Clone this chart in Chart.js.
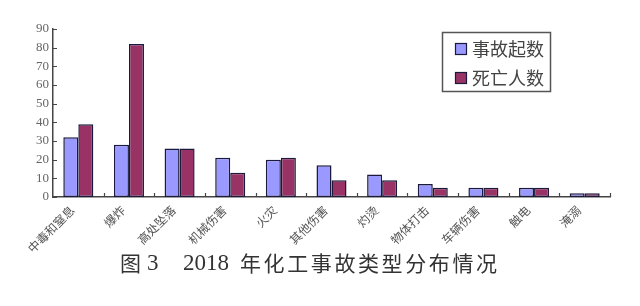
<!DOCTYPE html>
<html>
<head>
<meta charset="utf-8">
<script src="https://cdn.jsdelivr.net/npm/chart.js@4"></script>
<style>
  html, body { margin: 0; padding: 0; background: #fff; }
  #wrap { width: 640px; height: 306px; }
</style>
</head>
<body>
<div id="wrap"><canvas id="barchart" width="640" height="306"></canvas></div>
<script>
const categories = ['中毒和窒息', '爆炸', '高处坠落', '机械伤害', '火灾', '其他伤害', '灼烫', '物体打击', '车辆伤害', '触电', '淹溺'];
const accidents = [32, 28, 26, 21, 20, 17, 12, 7, 5, 5, 2];
const deaths = [39, 82, 26, 13, 21, 9, 9, 5, 5, 5, 2];
const seriesNames = ['事故起数', '死亡人数'];
const yTicks = [0, 10, 20, 30, 40, 50, 60, 70, 80, 90];
const titleParts = ['图', '3', '2018', '年化工事故类型分布情况'];

const serif = "'Liberation Serif', 'Noto Sans CJK SC', serif";
const cjk = "'Noto Sans CJK SC', sans-serif";

// small tick marks pointing into the plot, like the original figure
const tickMarks = {
    id: 'tickMarks',
    afterDraw(chart) {
        const ctx = chart.ctx;
        const x = chart.scales.x;
        const y = chart.scales.y;
        ctx.save();
        ctx.strokeStyle = '#444';
        ctx.lineWidth = 1.2;
        ctx.beginPath();
        yTicks.forEach((v) => {
            const py = Math.round(y.getPixelForValue(v)) + 0.5;
            ctx.moveTo(x.left, py);
            ctx.lineTo(x.left + 4, py);
        });
        const half = (x.getPixelForTick(1) - x.getPixelForTick(0)) / 2;
        for (let i = 0; i < categories.length; i++) {
            const px = Math.round(x.getPixelForTick(i) + half) + 0.5;
            ctx.moveTo(px, y.bottom);
            ctx.lineTo(px, y.bottom - 4);
        }
        ctx.stroke();
        ctx.restore();
    }
};

const boxLegend = {
    id: 'boxLegend',
    afterDraw(chart) {
        const ctx = chart.ctx;
        ctx.save();
        ctx.strokeStyle = '#555';
        ctx.lineWidth = 1.5;
        ctx.strokeRect(442.5, 32.5, 108, 59);
        chart.data.datasets.forEach((ds, i) => {
            const top = 43 + i * 29;
            ctx.fillStyle = ds.backgroundColor;
            ctx.fillRect(455, top, 12, 12);
            ctx.strokeStyle = ds.borderColor;
            ctx.lineWidth = 1.2;
            ctx.strokeRect(455.5, top + 0.5, 11, 11);
            ctx.fillStyle = '#444';
            ctx.font = '18px ' + cjk;
            ctx.textBaseline = 'middle';
            ctx.fillText(ds.label, 472, top + 6);
        });
        ctx.restore();
    }
};

const captionTitle = {
    id: 'captionTitle',
    afterDraw(chart) {
        const ctx = chart.ctx;
        ctx.save();
        ctx.fillStyle = '#333';
        ctx.textBaseline = 'middle';
        ctx.font = '21px ' + cjk;
        ctx.fillText(titleParts[0], 120, 263);
        ctx.font = '23px ' + serif;
        ctx.fillText(titleParts[1], 147, 264);
        ctx.fillText(titleParts[2], 183, 264);
        ctx.font = '21px ' + cjk;
        let cx = 240;
        for (const ch of titleParts[3]) {
            ctx.fillText(ch, cx, 263);
            cx += 23.6;
        }
        ctx.restore();
    }
};

const ctx = document.getElementById('barchart');
new Chart(ctx, {
    type: 'bar',
    data: {
        labels: categories,
        datasets: [{
            label: seriesNames[0],
            data: accidents,
            backgroundColor: '#9999ff',
            borderColor: '#1c1a3c',
            borderWidth: 1.5,
            borderSkipped: false
        }, {
            label: seriesNames[1],
            data: deaths,
            backgroundColor: '#993366',
            borderColor: '#1c1a3c',
            borderWidth: 1.5,
            borderSkipped: false
        }]
    },
    options: {
        responsive: false,
        animation: false,
        layout: { padding: { top: 29, right: 30, bottom: 0, left: 0 } },
        datasets: { bar: { categoryPercentage: 0.593, barPercentage: 1 } },
        plugins: {
            legend: { display: false },
            tooltip: { enabled: false },
            title: { display: false }
        },
        scales: {
            x: {
                grid: { display: false, drawTicks: false },
                border: { color: '#444', width: 1.5 },
                ticks: {
                    autoSkip: false,
                    maxRotation: 45,
                    minRotation: 45,
                    padding: 6,
                    labelOffset: -6,
                    color: '#555',
                    font: { family: cjk, size: 12 }
                },
                afterFit(axis) {
                    axis.height = 109;
                    axis.paddingLeft = 0;
                    axis.paddingRight = 0;
                }
            },
            y: {
                min: 0,
                max: 90,
                afterBuildTicks(axis) {
                    axis.ticks = yTicks.map((v) => ({ value: v }));
                },
                grid: { display: false, drawTicks: false },
                border: { color: '#444', width: 1.5 },
                ticks: {
                    padding: 4,
                    color: '#666',
                    font: { family: serif, size: 13 }
                },
                afterFit(axis) {
                    axis.width = 53;
                    axis.paddingTop = 0;
                    axis.paddingBottom = 0;
                }
            }
        }
    },
    plugins: [tickMarks, boxLegend, captionTitle]
});
</script>
</body>
</html>
